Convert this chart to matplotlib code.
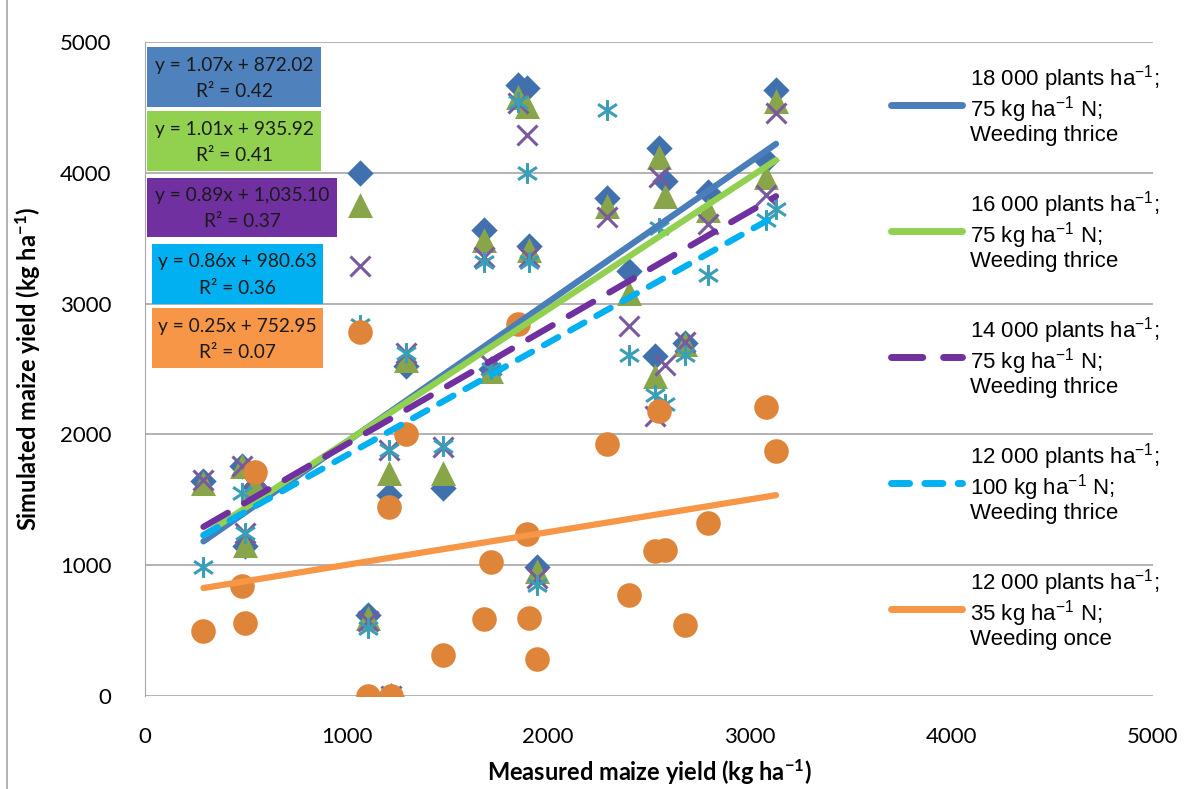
import matplotlib.pyplot as plt
from matplotlib.lines import Line2D
from matplotlib.patches import Rectangle
from matplotlib.path import Path

# measured yield (kg/ha) and simulated yields for each treatment
measured = [290, 480, 495, 545, 1065, 1105, 1210, 1220, 1295, 1480, 1680, 1715, 1850,
            1895, 1905, 1945, 2290, 2400, 2530, 2550, 2580, 2680, 2795, 3080, 3130]
sim_18k = [1640, 1760, 1150, 1600, 4000, 620, 1540, 0, 2520, 1590, 3560, 2500, 4670,
           4650, 3440, 990, 3810, 3250, 2600, 4190, 3940, 2700, 3850, 4100, 4630]
sim_16k = [1620, 1750, 1150, 1600, 3750, 590, 1700, 0, 2560, 1700, 3480, 2480, 4570,
           4500, 3400, 950, 3740, 3070, 2440, 4110, 3815, 2680, 3710, 3960, 4540]
sim_14k = [1650, 1760, 1250, 1680, 3290, 570, 1880, 0, 2620, 1900, 3360, 2530, 4530,
           4290, 3360, 900, 3660, 2830, 2140, 3970, 2530, 2710, 3610, 3830, 4460]
sim_12k_100 = [990, 1550, 1250, 1700, 2840, 520, 1880, 0, 2620, 1910, 3320, 2500, 4540,
               4000, 3320, 850, 4480, 2610, 2300, 3580, 2230, 2610, 3220, 3640, 3720]
sim_12k_35 = [500, 840, 560, 1710, 2780, 0, 1445, 0, 2000, 310, 590, 1025, 2844,
              1240, 600, 280, 1930, 770, 1110, 2180, 1115, 545, 1320, 2210, 1870]

# fitted trend lines (slope, intercept, R2)
slopes = [1.07, 1.01, 0.89, 0.86, 0.25]
intercepts = [872.02, 935.92, 1035.10, 980.63, 752.95]
r_squared = [0.42, 0.41, 0.37, 0.36, 0.07]
eq_labels = ['y = 1.07x + 872.02', 'y = 1.01x + 935.92', 'y = 0.89x + 1,035.10',
             'y = 0.86x + 980.63', 'y = 0.25x + 752.95']

legend_labels = [
    '18 000 plants $\\mathregular{ha^{-1}}$;\n75 kg $\\mathregular{ha^{-1}}$ N;\nWeeding thrice',
    '16 000 plants $\\mathregular{ha^{-1}}$;\n75 kg $\\mathregular{ha^{-1}}$ N;\nWeeding thrice',
    '14 000 plants $\\mathregular{ha^{-1}}$;\n75 kg $\\mathregular{ha^{-1}}$ N;\nWeeding thrice',
    '12 000 plants $\\mathregular{ha^{-1}}$;\n100 kg $\\mathregular{ha^{-1}}$ N;\nWeeding thrice',
    '12 000 plants $\\mathregular{ha^{-1}}$;\n35 kg $\\mathregular{ha^{-1}}$ N;\nWeeding once',
]

W, H = 1195, 789


def fx(x):
    return x / W


def fy(y):
    return 1 - y / H


# asterisk marker: vertical stroke plus a wide X
star_path = Path([(0, -1), (0, 1), (-0.9, -0.6), (0.9, 0.6), (-0.9, 0.6), (0.9, -0.6)],
                 [Path.MOVETO, Path.LINETO, Path.MOVETO, Path.LINETO, Path.MOVETO, Path.LINETO])

fig = plt.figure(figsize=(W / 100, H / 100), dpi=100)
ax = fig.add_axes([fx(145), fy(696), fx(1153 - 145), (696 - 42) / H])

series = [sim_18k, sim_16k, sim_14k, sim_12k_100, sim_12k_35]
marker_colors = ['#4170AE', '#88A54A', '#7A5A9E', '#3A9EB6', '#DE853A']
markers = ['D', '^', 'x', star_path, 'o']
sizes = [11.5, 15, 14, 15, 15.5]
for ys, c, m, s in zip(series, marker_colors, markers, sizes):
    ax.plot(measured, ys, ls='none', marker=m, ms=s, mfc=c, mec=c, mew=2.2, zorder=3)

line_colors = ['#4A7EBB', '#92D050', '#7030A0', '#00B0F0', '#F79646']
dashes = [None, None, (4.5, 3), (2.6, 2.2), None]
x0, x1 = min(measured), max(measured)
handles = []
for k in range(5):
    ln, = ax.plot([x0, x1], [slopes[k] * x0 + intercepts[k], slopes[k] * x1 + intercepts[k]],
                  color=line_colors[k], lw=4.5, solid_capstyle='round',
                  dash_capstyle='round', zorder=4 + k)
    if dashes[k]:
        ln.set_dashes(dashes[k])
    handles.append(ln)

ax.set_xlim(0, 5000)
ax.set_ylim(0, 5000)
ax.set_xticks(range(0, 5001, 1000))
ax.set_yticks(range(0, 5001, 1000))
ax.grid(axis='y', color='#A6A6A6', lw=1.2)
ax.set_axisbelow(True)
for side in ['top', 'right', 'bottom']:
    ax.spines[side].set_visible(False)
ax.spines['left'].set_color('#A6A6A6')
ax.tick_params(length=0, labelsize=16, colors='black')
ax.tick_params(axis='x', pad=22)
ax.tick_params(axis='y', pad=24)
for t in ax.get_xticklabels() + ax.get_yticklabels():
    t.set_family('Lato')

ax.set_xlabel('Measured maize yield (kg $\\mathregular{ha^{-1}}$)', family='Lato',
              fontsize=17, fontweight='bold', labelpad=8)
ax.set_ylabel('Simulated maize yield (kg $\\mathregular{ha^{-1}}$)', family='Lato',
              fontsize=17, fontweight='bold', labelpad=12)

# equation boxes
box_fill = ['#4F81BD', '#92D050', '#7030A0', '#00B0F0', '#F79646']
boxes = [(147, 47, 321, 107), (147, 111, 321, 171), (147, 178, 337, 237),
         (152, 244, 323, 304), (152, 308, 323, 368)]
for k, (l, t, r, b) in enumerate(boxes):
    fig.patches.append(Rectangle((fx(l), fy(b)), fx(r - l), (b - t) / H,
                                 transform=fig.transFigure, fc=box_fill[k], ec='none',
                                 zorder=10))
    cx = fx((l + r) / 2)
    fig.text(cx, fy(t + (b - t) * 0.3), eq_labels[k], ha='center', va='center',
             family='Lato', fontsize=13.8, color='#1A1A1A', zorder=11)
    fig.text(cx, fy(t + (b - t) * 0.74), f'R² = {r_squared[k]:.2f}', ha='center',
             va='center', family='Lato', fontsize=13.8, color='#1A1A1A', zorder=11)

leg = ax.legend(handles, legend_labels, loc='upper left',
                bbox_to_anchor=(fx(891), fy(63)), bbox_transform=fig.transFigure,
                frameon=False, prop={'family': 'Liberation Sans', 'size': 16},
                handlelength=3.2, handletextpad=0.35, labelspacing=1.95,
                borderaxespad=0, borderpad=0)
for h in leg.legend_handles:
    h.set_linewidth(5)
for t in leg.get_texts():
    t.set_linespacing(1.0)

# outer chart border on the left edge
fig.add_artist(Line2D([fx(7), fx(7)], [0, 1], color='#A6A6A6', lw=1.2,
                      transform=fig.transFigure))

fig.savefig('out.png', dpi=100)
